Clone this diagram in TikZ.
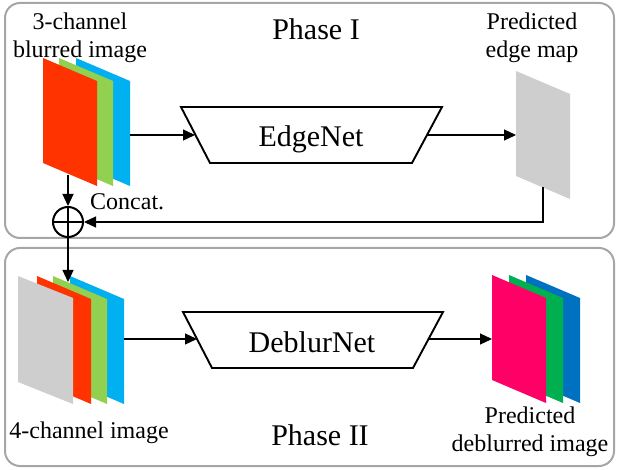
\documentclass[tikz,border=0pt]{standalone}
\usepackage{fontspec}
\setmainfont{Liberation Serif}
\usetikzlibrary{arrows.meta}

\definecolor{sheetgrey}{RGB}{206,206,206}

\tikzset{
  phasebox/.style={draw=black!35, line width=2pt, rounded corners=15pt},
  netbox/.style={draw=black, line width=1.9pt, line join=miter},
  link/.style={draw=black, line width=1.2pt, -{Triangle[length=12pt,width=11pt]}},
  lbl/.style={font=\fontsize{24}{28}\selectfont, align=center, inner sep=0pt},
  title/.style={font=\fontsize{30}{34}\selectfont, inner sep=0pt},
}

% one slanted image sheet: #1,#2 = top-left corner, #3 = fill options
\newcommand{\imgsheet}[3]{%
  \fill[#3] (#1,#2) -- ++(54,23) -- ++(0,105) -- ++(-54,-23) -- cycle;}

\begin{document}
\begin{tikzpicture}[x=1pt,y=-1pt]
\useasboundingbox (0,0) rectangle (618,470);

% the two phases
\draw[phasebox] (5,3) rectangle (614,238);
\draw[phasebox] (5,248) rectangle (614,466);
\node[title, anchor=base] (ph1) at (316,40) {Phase I};
\node[title, anchor=base] (ph2) at (320,445) {Phase II};

% ---------- Phase I ----------
% 3-channel blurred input
\imgsheet{76}{58}{fill={rgb,255:red,0;green,176;blue,240}}
\imgsheet{59}{58}{fill={rgb,255:red,146;green,208;blue,80}}
\imgsheet{43}{58}{fill={rgb,255:red,255;green,51;blue,0}}
\coordinate (inR) at (130,135);
\coordinate (inB) at (68,175);
\node[lbl, anchor=north] (inlbl) at (80,13) {3-channel\\blurred image};

% EdgeNet
\draw[netbox] (181,107) -- (442,107) -- (412,163) -- (210,163) -- cycle;
\coordinate (enL) at (195,135);
\coordinate (enR) at (427,135);
\node[title, anchor=base] (edgenet) at (311,147) {EdgeNet};

% predicted edge map
\fill[sheetgrey] (516,71) -- (570,94) -- (570,199) -- (516,176) -- cycle;
\coordinate (emL) at (516,135);
\coordinate (emB) at (543,187);
\coordinate (emC) at (543,222);
\node[lbl, anchor=north] (emlbl) at (532,13) {Predicted\\edge map};

% concatenation
\node[draw, line width=2pt, circle, minimum size=30pt, inner sep=0pt] (cat) at (68,222) {};
\draw[line width=1.8pt] (cat.north) -- (cat.south) (cat.west) -- (cat.east);
\node[lbl, anchor=base west] (catlbl) at (90,210) {Concat.};

\draw[link] (inR) -- (enL);
\draw[link] (enR) -- (emL);
\draw[link] (inB) -- (cat.north);
\draw[link] (emB) -- (emC) -- (cat.east);

% ---------- Phase II ----------
% 4-channel input
\imgsheet{70}{276}{fill={rgb,255:red,0;green,176;blue,240}}
\imgsheet{53}{276}{fill={rgb,255:red,146;green,208;blue,80}}
\imgsheet{37}{276}{fill={rgb,255:red,255;green,51;blue,0}}
\fill[sheetgrey] (18,276) -- (73,298) -- (73,404) -- (18,382) -- cycle;
\coordinate (in2T) at (68,282);
\coordinate (in2R) at (124,339);
\node[lbl, anchor=base] (in2lbl) at (89,438) {4-channel image};

% DeblurNet
\draw[netbox] (183,312) -- (443,312) -- (413,368) -- (212,368) -- cycle;
\coordinate (dnL) at (197,339);
\coordinate (dnR) at (428,339);
\node[title, anchor=base] (deblurnet) at (312,352) {DeblurNet};

% predicted deblurred output
\imgsheet{526}{275}{fill={rgb,255:red,0;green,112;blue,192}}
\imgsheet{509}{275}{fill={rgb,255:red,0;green,176;blue,80}}
\imgsheet{492}{275}{fill={rgb,255:red,255;green,0;blue,102}}
\coordinate (outL) at (492,339);
\node[lbl, anchor=north] (outlbl) at (530,407) {Predicted\\deblurred image};

\draw[link] (cat.south) -- (in2T);
\draw[link] (in2R) -- (dnL);
\draw[link] (dnR) -- (outL);
\end{tikzpicture}
\end{document}
